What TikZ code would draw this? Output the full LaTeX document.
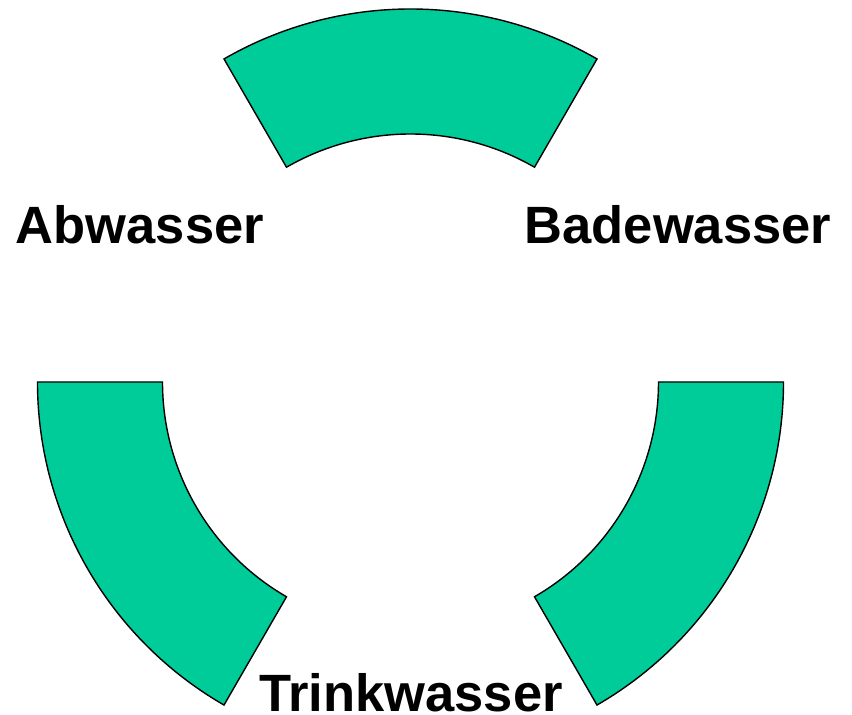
\documentclass[tikz,border=0pt]{standalone}
\usepackage{fontspec}
\setmainfont{Liberation Sans}
\usepackage{tikz}
\definecolor{wasser}{HTML}{00CC99}

\begin{document}
\begin{tikzpicture}[seg/.style={draw=black,line width=1.4pt,fill=wasser}, lbl/.style={font=\fontsize{52.5}{60}\selectfont\bfseries,anchor=base,inner sep=0pt}]
\useasboundingbox (0pt,0pt) rectangle (852pt,715pt);
\coordinate (mid) at (410.5pt,333pt);
\foreach \a [evaluate=\a as \b using \a+60] in {60,180,300}
  \draw[seg] ([shift={(\a:373pt)}]mid) arc[start angle=\a,end angle=\b,radius=373pt]
    -- ([shift={(\b:248pt)}]mid) arc[start angle=\b,end angle=\a,radius=248pt] -- cycle;
\node[lbl] (abw) at (140pt,471pt) {Abwasser};
\node[lbl] (bade) at (678pt,471pt) {Badewasser};
\node[lbl] (trink) at (411pt,3pt) {Trinkwasser};
\end{tikzpicture}
\end{document}
